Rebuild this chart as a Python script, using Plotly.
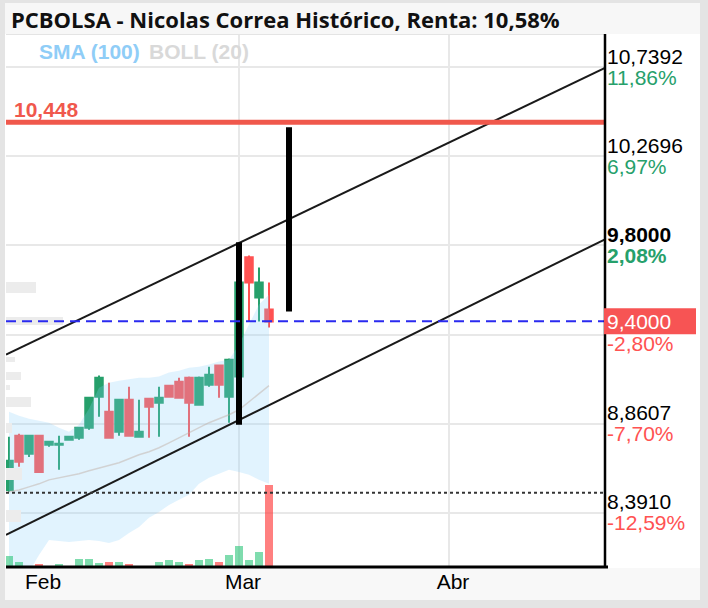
import plotly.graph_objects as go

# ---------------- data ----------------
idx = list(range(-3, 24))  # trading-day index, 0 = first session of Feb, 20 = first of Mar
opens  = [8.512, 8.797, 8.702, 8.797, 8.750, 8.750, 8.776, 8.787, 8.839, 9.003, 8.924, 8.818, 8.987, 8.792,
          8.992, 8.971, 9.061, 9.082, 9.103, 8.961, 9.066, 9.167, 9.003, 9.109, 9.737, 9.526, 9.462]
highs  = [8.792, 8.808, 8.803, 8.803, 8.766, 8.797, 8.797, 8.842, 8.998, 9.114, 9.077, 8.992, 9.056, 8.987,
          8.998, 9.056, 9.066, 9.103, 9.109, 9.109, 9.161, 9.172, 9.204, 9.610, 9.747, 9.684, 9.605]
lows   = [8.502, 8.634, 8.686, 8.602, 8.739, 8.618, 8.776, 8.776, 8.829, 8.898, 8.781, 8.797, 8.792, 8.787,
          8.787, 8.792, 8.998, 8.992, 8.792, 8.955, 9.056, 8.998, 8.866, 9.103, 9.399, 9.399, 9.367]
closes = [8.665, 8.660, 8.797, 8.607, 8.766, 8.755, 8.792, 8.839, 8.998, 9.103, 8.787, 8.987, 8.797, 8.818,
          8.950, 8.998, 9.003, 8.998, 8.971, 9.103, 9.119, 9.066, 9.198, 9.605, 9.605, 9.605, 9.399]
volumes = [11000, 5000, 0, 3300, 0, 3300, 0, 8000, 8000, 4300, 5000, 5000, 3300, 0,
           0, 5000, 6700, 5000, 3300, 6700, 8300, 5000, 12300, 21000, 6700, 15000, 82000]
vol_up = [1, 1, 1, 0, 1, 1, 1, 1, 1, 1, 0, 1, 0, 1, 1, 1, 1, 1, 0, 1, 1, 0, 1, 1, 1, 1, 0]

boll_upper = [8.924, 8.903, 8.887, 8.876, 8.866, 8.839, 8.818, 8.855, 8.940, 9.050, 9.077, 9.087, 9.093, 9.103,
              9.103, 9.109, 9.130, 9.140, 9.156, 9.161, 9.172, 9.188, 9.198, 9.277, 9.383, 9.489, 9.540]
boll_lower = [7.932, 7.985, 8.080, 8.169, 8.248, 8.243, 8.238, 8.243, 8.248, 8.243, 8.233, 8.248, 8.285, 8.317,
              8.365, 8.396, 8.433, 8.460, 8.486, 8.544, 8.576, 8.597, 8.618, 8.607, 8.592, 8.565, 8.544]
boll_mid   = [8.502, 8.512, 8.528, 8.544, 8.565, 8.576, 8.586, 8.597, 8.613, 8.628, 8.639, 8.655, 8.676, 8.697,
              8.713, 8.734, 8.760, 8.787, 8.813, 8.839, 8.866, 8.887, 8.908, 8.934, 8.977, 9.019, 9.061]

# price-volume profile (left side)
prof_price = [9.578, 9.404, 9.198, 9.114, 9.050, 8.977, 8.839, 8.597, 8.375]
prof_vol   = [30, 57, 9, 15, 4, 25, 6, 16, 15]
prof_thick = [0.053, 0.042, 0.026, 0.042, 0.026, 0.053, 0.053, 0.063, 0.063]

# drawn trend channel and range markers
chan_up_x, chan_up_y = [-3.3, 56.6], [9.225, 10.735]
chan_lo_x, chan_lo_y = [-3.3, 56.6], [8.275, 9.832]
range_bars = [(20, 8.855, 9.816), (25, 9.4516, 10.4225)]

resistance = 10.448
last_price = 9.40
support = 8.497

grid_vals = [10.7392, 10.2696, 9.8000, 9.3304, 8.8607, 8.3911]
label_vals = [10.7392, 10.2696, 9.8000, 8.8607, 8.3911]
label_text = ["10,7392", "10,2696", "9,8000", "8,8607", "8,3910"]
pct_text = ["11,86%", "6,97%", "2,08%", "-7,70%", "-12,59%"]
last_pct = "-2,80%"

tick_idx = [0, 20, 41]
tick_lbl = ["Feb", "Mar", "Abr"]

X_RANGE = [-3.3, 56.6]
Y_RANGE = [8.106, 10.908]

GREEN = "#26a06b"
RED = "#ff5252"
FONT = "Liberation Sans, Arial, sans-serif"

fig = go.Figure()

# volume profile
fig.add_trace(go.Bar(x=prof_vol, y=prof_price, width=prof_thick, orientation="h",
                     marker=dict(color="#ececec", line=dict(width=0)),
                     xaxis="x2", yaxis="y", hoverinfo="skip"))

# bollinger band
fig.add_trace(go.Scatter(x=idx, y=boll_lower, mode="lines", line=dict(width=0, color="rgba(0,0,0,0)"),
                         hoverinfo="skip"))
fig.add_trace(go.Scatter(x=idx, y=boll_upper, mode="lines", line=dict(width=0, color="rgba(0,0,0,0)"),
                         fill="tonexty", fillcolor="rgba(135,206,250,0.25)", hoverinfo="skip"))
fig.add_trace(go.Scatter(x=idx, y=boll_mid, mode="lines", line=dict(width=1.5, color="rgba(190,170,160,0.45)"),
                         hoverinfo="skip"))

# volume
vol_colors = ["rgba(41,196,120,0.6)" if u else "rgba(255,60,60,0.65)" for u in vol_up]
fig.add_trace(go.Bar(x=idx, y=volumes, marker=dict(color=vol_colors, line=dict(width=0)),
                     width=0.75, xaxis="x", yaxis="y2", hoverinfo="skip"))

# candles
fig.add_trace(go.Candlestick(x=idx, open=opens, high=highs, low=lows, close=closes,
                             increasing=dict(line=dict(color=GREEN, width=2), fillcolor=GREEN),
                             decreasing=dict(line=dict(color=RED, width=2), fillcolor=RED),
                             whiskerwidth=0, hoverinfo="skip"))

# channel lines
fig.add_trace(go.Scatter(x=chan_up_x, y=chan_up_y, mode="lines", line=dict(color="#1a1a1a", width=2),
                         hoverinfo="skip"))
fig.add_trace(go.Scatter(x=chan_lo_x, y=chan_lo_y, mode="lines", line=dict(color="#1a1a1a", width=2),
                         hoverinfo="skip"))
for bx, blo, bhi in range_bars:
    fig.add_trace(go.Scatter(x=[bx, bx], y=[blo, bhi], mode="lines", line=dict(color="#000000", width=6),
                             hoverinfo="skip"))

def px_x(p):
    return (p - 6) / 599.0

def px_y(p):
    return (567 - p) / 531.0

shapes = []
# frame bands
shapes.append(dict(type="rect", xref="paper", yref="paper", x0=px_x(5), x1=px_x(700), y0=px_y(35), y1=px_y(4),
                   fillcolor="#f7f7f7", line=dict(width=0), layer="below"))
shapes.append(dict(type="rect", xref="paper", yref="paper", x0=px_x(605), x1=px_x(700), y0=px_y(568), y1=px_y(35),
                   fillcolor="#ffffff", line=dict(width=0), layer="below"))
shapes.append(dict(type="rect", xref="paper", yref="paper", x0=px_x(5), x1=px_x(700), y0=px_y(600), y1=px_y(568),
                   fillcolor="#f8f8f8", line=dict(width=0), layer="below"))
shapes.append(dict(type="rect", xref="paper", yref="paper", x0=px_x(5), x1=px_x(6), y0=px_y(568), y1=px_y(35),
                   fillcolor="#ffffff", line=dict(width=0), layer="below"))
# vertical grid at month ticks (except first)
for t in tick_idx[1:]:
    shapes.append(dict(type="line", xref="x", yref="paper", x0=t, x1=t, y0=0, y1=1,
                       line=dict(color="#e8e8e8", width=2), layer="below"))
# level lines
shapes.append(dict(type="line", xref="paper", yref="y", x0=0, x1=1, y0=resistance, y1=resistance,
                   line=dict(color="#f0584c", width=5)))
shapes.append(dict(type="line", xref="paper", yref="y", x0=0, x1=1, y0=last_price, y1=last_price,
                   line=dict(color="#2a2af0", width=2, dash="10px,6px")))
shapes.append(dict(type="line", xref="paper", yref="y", x0=0, x1=1, y0=support, y1=support,
                   line=dict(color="#333333", width=2, dash="3px,3px")))
# axis lines
shapes.append(dict(type="line", xref="paper", yref="paper", x0=0, x1=px_x(608), y0=px_y(567), y1=px_y(567),
                   line=dict(color="#000000", width=3)))
shapes.append(dict(type="line", xref="paper", yref="paper", x0=1.0, x1=1.0, y0=0, y1=px_y(35),
                   line=dict(color="#000000", width=2.5)))
# price box
shapes.append(dict(type="rect", xref="paper", yref="y", x0=px_x(604), x1=px_x(696),
                   ysizemode="pixel", yanchor=last_price, y0=-13, y1=13,
                   fillcolor="#f75454", line=dict(width=0)))

annotations = []
annotations.append(dict(text="<b>PCBOLSA - Nicolas Correa Histórico, Renta: 10,58%</b>", xref="paper", yref="paper",
                        x=px_x(9), y=px_y(20), xanchor="left", yanchor="middle", showarrow=False,
                        font=dict(family="Open Sans, sans-serif", size=22, color="#111111")))
annotations.append(dict(text="<b>SMA (100)</b>", xref="paper", yref="paper", x=px_x(37), y=px_y(52),
                        xanchor="left", yanchor="middle", showarrow=False,
                        font=dict(family=FONT, size=21, color="#8fcdf7")))
annotations.append(dict(text="<b>BOLL (20)</b>", xref="paper", yref="paper", x=px_x(147), y=px_y(52),
                        xanchor="left", yanchor="middle", showarrow=False,
                        font=dict(family=FONT, size=21, color="#d9d9d9")))
annotations.append(dict(text="<b>10,448</b>", xref="paper", yref="y", x=px_x(12), y=resistance, yshift=13,
                        xanchor="left", yanchor="middle", showarrow=False,
                        font=dict(family=FONT, size=21, color="#f0584c")))
for v, t, p in zip(label_vals, label_text, pct_text):
    bold = abs(v - 9.8) < 1e-6
    pc = GREEN if not p.startswith("-") else RED
    annotations.append(dict(text=("<b>%s</b>" % t) if bold else t, xref="paper", yref="y", x=1, xshift=1, y=v,
                            yshift=11, xanchor="left", yanchor="middle", showarrow=False, borderpad=0,
                            font=dict(family=FONT, size=21, color="#000000")))
    annotations.append(dict(text=("<b>%s</b>" % p) if bold else p, xref="paper", yref="y", x=1, xshift=1, y=v,
                            yshift=-10, xanchor="left", yanchor="middle", showarrow=False, borderpad=0,
                            font=dict(family=FONT, size=21, color=pc)))
annotations.append(dict(text="9,4000", xref="paper", yref="y", x=1, xshift=1, y=last_price,
                        xanchor="left", yanchor="middle", showarrow=False, borderpad=0,
                        font=dict(family=FONT, size=21, color="#ffffff")))
annotations.append(dict(text=last_pct, xref="paper", yref="y", x=1, xshift=1, y=last_price, yshift=-22,
                        xanchor="left", yanchor="middle", showarrow=False, borderpad=0,
                        font=dict(family=FONT, size=21, color=RED)))

fig.update_layout(
    width=708, height=608,
    margin=dict(l=6, r=103, t=35, b=41),
    paper_bgcolor="#e4e4e4",
    plot_bgcolor="#ffffff",
    showlegend=False,
    bargap=0,
    boxgap=0.25,
    boxgroupgap=0,
    xaxis=dict(range=X_RANGE, tickvals=tick_idx, ticktext=tick_lbl, showgrid=False, zeroline=False,
               showline=False, ticks="", tickfont=dict(family=FONT, size=21, color="#000000"),
               ticklabelshift=4, rangeslider=dict(visible=False), fixedrange=True),
    xaxis2=dict(range=[0, 599], overlaying="x", visible=False, fixedrange=True),
    yaxis=dict(range=Y_RANGE, tickvals=grid_vals, showticklabels=False, showgrid=True,
               gridcolor="#e8e8e8", gridwidth=2, zeroline=False, showline=False, fixedrange=True),
    yaxis2=dict(range=[0, 531000], overlaying="y", visible=False, fixedrange=True),
    shapes=shapes,
    annotations=annotations,
)

fig.write_html("out.html")
